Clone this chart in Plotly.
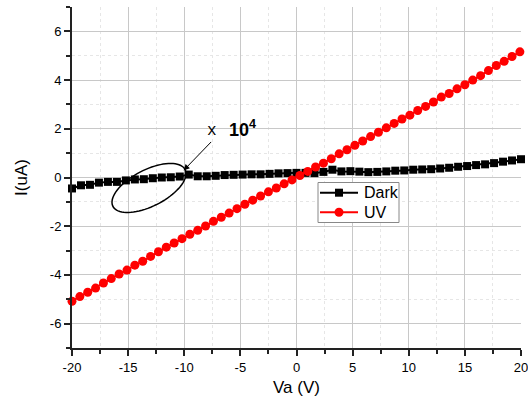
import numpy as np
import plotly.graph_objects as go

# ---------------- data ----------------
dark_x = [-20.0, -19.2, -18.4, -17.6, -16.8, -16.0, -15.2, -14.4, -13.6, -12.8,
          -12.0, -11.2, -10.4, -9.6, -8.8, -8.0, -7.2, -6.4, -5.6, -4.8,
          -4.0, -3.2, -2.4, -1.6, -0.8, 0.0, 0.8, 1.6, 2.4, 3.2,
          4.0, 4.8, 5.6, 6.4, 7.2, 8.0, 8.8, 9.6, 10.4, 11.2,
          12.0, 12.8, 13.6, 14.4, 15.2, 16.0, 16.8, 17.6, 18.4, 19.2, 20.0]
dark_y = [-0.45, -0.32, -0.30, -0.21, -0.18, -0.18, -0.12, -0.08, -0.07, -0.03,
          0.00, 0.01, 0.04, 0.12, 0.05, 0.05, 0.07, 0.10, 0.11, 0.12,
          0.13, 0.13, 0.15, 0.17, 0.18, 0.19, 0.19, 0.18, 0.23, 0.32,
          0.25, 0.26, 0.24, 0.22, 0.23, 0.25, 0.28, 0.29, 0.32, 0.33,
          0.34, 0.37, 0.40, 0.44, 0.47, 0.51, 0.54, 0.59, 0.65, 0.70, 0.75]

uv_x = [-20.0, -19.3, -18.6, -17.9, -17.2, -16.5, -15.8, -15.1, -14.4, -13.7,
        -13.0, -12.3, -11.6, -10.9, -10.2, -9.5, -8.8, -8.1, -7.4, -6.7,
        -6.0, -5.3, -4.6, -3.9, -3.2, -2.5, -1.8, -1.1, -0.4, 0.3,
        1.0, 1.7, 2.4, 3.1, 3.8, 4.5, 5.2, 5.9, 6.6, 7.3,
        8.0, 8.7, 9.4, 10.1, 10.8, 11.5, 12.2, 12.9, 13.6, 14.3,
        15.0, 15.7, 16.4, 17.1, 17.8, 18.5, 19.2, 19.9]
uv_y = [-5.08, -4.89, -4.71, -4.54, -4.33, -4.15, -3.96, -3.80, -3.60, -3.44,
        -3.24, -3.05, -2.86, -2.69, -2.51, -2.33, -2.17, -1.99, -1.80, -1.63,
        -1.46, -1.28, -1.10, -0.93, -0.76, -0.59, -0.43, -0.26, -0.10, 0.08,
        0.25, 0.43, 0.59, 0.77, 0.97, 1.14, 1.32, 1.50, 1.68, 1.86,
        2.04, 2.22, 2.40, 2.56, 2.75, 2.92, 3.10, 3.30, 3.45, 3.64,
        3.81, 4.00, 4.18, 4.39, 4.60, 4.77, 4.97, 5.16]

series_names = ["Dark", "UV"]
x_ticks = [-20, -15, -10, -5, 0, 5, 10, 15, 20]
y_ticks = [-6, -4, -2, 0, 2, 4, 6]

FONT = "Arial, 'Liberation Sans', sans-serif"
W, H = 528, 403
ML, MR, MT, MB = 72, 7, 7, 55
XR = [-20, 20]
YR = [-7, 7]
PW, PH = W - ML - MR, H - MT - MB

def px2paper(px, py):
    return (px - ML) / PW, (H - MB - py) / PH

fig = go.Figure()
fig.add_trace(go.Scatter(
    x=dark_x, y=dark_y, mode="lines+markers", name=series_names[0],
    line=dict(color="black", width=2),
    marker=dict(symbol="square", size=8, color="black"),
    cliponaxis=False, showlegend=False))
fig.add_trace(go.Scatter(
    x=uv_x, y=uv_y, mode="lines+markers", name=series_names[1],
    line=dict(color="#ff0000", width=2),
    marker=dict(symbol="circle", size=9, color="#ff0000"),
    cliponaxis=False, showlegend=False))

# ellipse annotation (geometry in pixels, converted to data units)
sx = PW / (XR[1] - XR[0])
sy = PH / (YR[1] - YR[0])
cx, cy = -13.14, -0.43
a_px, b_px, th = 40.5, 18.2, np.deg2rad(27)
t = np.linspace(0, 2 * np.pi, 80)
ex = cx + (a_px * np.cos(th) * np.cos(t) - b_px * np.sin(th) * np.sin(t)) / sx
ey = cy + (a_px * np.sin(th) * np.cos(t) + b_px * np.cos(th) * np.sin(t)) / sy
path = "M " + " L ".join(f"{xx:.4f},{yy:.4f}" for xx, yy in zip(ex, ey)) + " Z"
fig.add_shape(type="path", path=path, xref="x", yref="y",
              line=dict(color="black", width=1.5))

fig.add_annotation(x=-10.06, y=0.29, xref="x", yref="y", text="",
                   showarrow=True, arrowhead=2, arrowsize=1.2, arrowwidth=1,
                   arrowcolor="black", ax=29, ay=-30)
fig.add_annotation(x=-7.5, y=1.9, xref="x", yref="y", text="x",
                   showarrow=False,
                   font=dict(family="'Liberation Mono', monospace", size=16, color="black"))
fig.add_annotation(x=-4.8, y=2.0, xref="x", yref="y", text="<b>10<sup>4</sup></b>",
                   showarrow=False,
                   font=dict(family=FONT, size=18, color="black"))

# ---- hand-drawn legend box (compact like the original) ----
x0, y0 = px2paper(318, 182.5)
x1, y1 = px2paper(399, 222.5)
fig.add_shape(type="rect", xref="paper", yref="paper", x0=x0, y0=y1, x1=x1, y1=y0,
              line=dict(color="#888", width=1), fillcolor="white", layer="above")
legend_rows = [(192.7, "black", "square"), (212.3, "#ff0000", "circle")]
for (ry, col, sym), name in zip(legend_rows, series_names):
    lx0, ly = px2paper(320, ry)
    lx1, _ = px2paper(358, ry)
    mx, _ = px2paper(339, ry)
    fig.add_shape(type="line", xref="paper", yref="paper", x0=lx0, x1=lx1, y0=ly, y1=ly,
                  line=dict(color=col, width=2), layer="above")
    if sym == "square":
        fig.add_shape(type="rect", xref="paper", yref="paper", xsizemode="pixel",
                      ysizemode="pixel", xanchor=mx, yanchor=ly, x0=-4, x1=4, y0=-4, y1=4,
                      line=dict(width=0), fillcolor=col, layer="above")
    else:
        fig.add_shape(type="circle", xref="paper", yref="paper", xsizemode="pixel",
                      ysizemode="pixel", xanchor=mx, yanchor=ly, x0=-4.5, x1=4.5, y0=-4.5, y1=4.5,
                      line=dict(width=0), fillcolor=col, layer="above")
    tx, _ = px2paper(362, ry)
    fig.add_annotation(xref="paper", yref="paper", x=tx, y=ly, text=name,
                       xanchor="left", yanchor="middle", showarrow=False,
                       font=dict(family=FONT, size=16, color="black"))

axis_common = dict(
    showline=True, linecolor="#222", linewidth=2,
    ticks="outside", ticklen=6, tickwidth=1.5, tickcolor="#222",
    showgrid=True, gridcolor="#c8c8c8", gridwidth=1,
    zeroline=False, mirror=False, automargin=False,
    ticklabeloverflow="allow",
    tickfont=dict(family=FONT, size=13, color="black"),
)

fig.update_xaxes(
    range=XR, tickvals=x_ticks, ticktext=[str(v) for v in x_ticks],
    title=dict(text="Va (V)", font=dict(family=FONT, size=17, color="black"), standoff=8),
    minor=dict(dtick=2.5, tick0=-20, ticks="outside", ticklen=4, tickwidth=1.5,
               tickcolor="#222", showgrid=True, gridcolor="#e6e6e6", griddash="dot"),
    **axis_common)
fig.update_yaxes(
    range=YR, tickvals=y_ticks, ticktext=[str(v) for v in y_ticks],
    title=dict(text="I(uA)", font=dict(family=FONT, size=17, color="black"), standoff=18),
    minor=dict(dtick=1, tick0=-7, ticks="outside", ticklen=4, tickwidth=1.5,
               tickcolor="#222", showgrid=True, gridcolor="#e6e6e6", griddash="dot"),
    **axis_common)

fig.update_layout(
    width=W, height=H,
    margin=dict(l=ML, r=MR, t=MT, b=MB, autoexpand=False),
    paper_bgcolor="white", plot_bgcolor="white",
    font=dict(family=FONT, color="black"),
    showlegend=False,
)

fig.write_html("out.html", config={"displayModeBar": False},
               post_script="document.body.style.margin='0';document.body.style.overflow='hidden';")
